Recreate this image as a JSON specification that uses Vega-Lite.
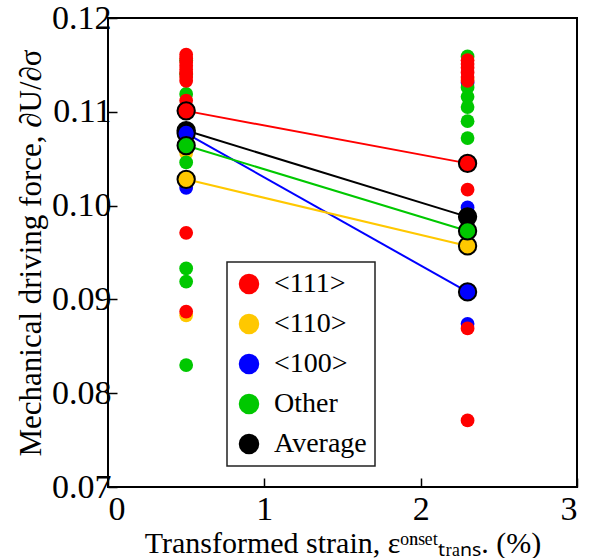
{
  "$schema": "https://vega.github.io/schema/vega-lite/v6.json",
  "width": 469,
  "height": 469,
  "autosize": {"type": "none"},
  "padding": {"left": 108, "top": 18, "right": 13, "bottom": 71},
  "background": "white",
  "config": {
    "view": {"stroke": "black", "strokeWidth": 2},
    "font": "Liberation Serif",
    "axis": {"labelFont": "Liberation Serif", "titleFont": "Liberation Serif", "labelColor": "black", "titleColor": "black", "titleFontWeight": "normal", "tickColor": "black", "tickWidth": 1.5, "grid": false, "domain": false}
  },
  "data": {
    "values": [
      {"x": 0.5, "y": 0.1082, "g": "<100>", "k": "pt"},
      {"x": 0.5, "y": 0.1019, "g": "<100>", "k": "pt"},
      {"x": 2.3, "y": 0.1131, "g": "<100>", "k": "pt"},
      {"x": 2.3, "y": 0.0998, "g": "<100>", "k": "pt"},
      {"x": 2.3, "y": 0.0874, "g": "<100>", "k": "pt"},
      {"x": 0.5, "y": 0.1056, "g": "<110>", "k": "pt"},
      {"x": 0.5, "y": 0.0883, "g": "<110>", "k": "pt"},
      {"x": 2.3, "y": 0.1135, "g": "<110>", "k": "pt"},
      {"x": 0.5, "y": 0.1155, "g": "Other", "k": "pt"},
      {"x": 0.5, "y": 0.1140, "g": "Other", "k": "pt"},
      {"x": 0.5, "y": 0.1119, "g": "Other", "k": "pt"},
      {"x": 0.5, "y": 0.1046, "g": "Other", "k": "pt"},
      {"x": 0.5, "y": 0.0933, "g": "Other", "k": "pt"},
      {"x": 0.5, "y": 0.0919, "g": "Other", "k": "pt"},
      {"x": 0.5, "y": 0.0830, "g": "Other", "k": "pt"},
      {"x": 2.3, "y": 0.1159, "g": "Other", "k": "pt"},
      {"x": 2.3, "y": 0.1126, "g": "Other", "k": "pt"},
      {"x": 2.3, "y": 0.1116, "g": "Other", "k": "pt"},
      {"x": 2.3, "y": 0.1105, "g": "Other", "k": "pt"},
      {"x": 2.3, "y": 0.1090, "g": "Other", "k": "pt"},
      {"x": 2.3, "y": 0.1072, "g": "Other", "k": "pt"},
      {"x": 0.5, "y": 0.1161, "g": "<111>", "k": "pt"},
      {"x": 0.5, "y": 0.1157, "g": "<111>", "k": "pt"},
      {"x": 0.5, "y": 0.1153, "g": "<111>", "k": "pt"},
      {"x": 0.5, "y": 0.1149, "g": "<111>", "k": "pt"},
      {"x": 0.5, "y": 0.1145, "g": "<111>", "k": "pt"},
      {"x": 0.5, "y": 0.1141, "g": "<111>", "k": "pt"},
      {"x": 0.5, "y": 0.1137, "g": "<111>", "k": "pt"},
      {"x": 0.5, "y": 0.1133, "g": "<111>", "k": "pt"},
      {"x": 0.5, "y": 0.1112, "g": "<111>", "k": "pt"},
      {"x": 0.5, "y": 0.0971, "g": "<111>", "k": "pt"},
      {"x": 0.5, "y": 0.0887, "g": "<111>", "k": "pt"},
      {"x": 2.3, "y": 0.1155, "g": "<111>", "k": "pt"},
      {"x": 2.3, "y": 0.1151, "g": "<111>", "k": "pt"},
      {"x": 2.3, "y": 0.1147, "g": "<111>", "k": "pt"},
      {"x": 2.3, "y": 0.1142, "g": "<111>", "k": "pt"},
      {"x": 2.3, "y": 0.1137, "g": "<111>", "k": "pt"},
      {"x": 2.3, "y": 0.1133, "g": "<111>", "k": "pt"},
      {"x": 2.3, "y": 0.1017, "g": "<111>", "k": "pt"},
      {"x": 2.3, "y": 0.0869, "g": "<111>", "k": "pt"},
      {"x": 2.3, "y": 0.0771, "g": "<111>", "k": "pt"},
      {"x": 0.5, "y": 0.1080, "g": "Average", "k": "avg"},
      {"x": 2.3, "y": 0.0988, "g": "Average", "k": "avg"},
      {"x": 0.5, "y": 0.1028, "g": "<110>", "k": "avg"},
      {"x": 2.3, "y": 0.0957, "g": "<110>", "k": "avg"},
      {"x": 0.5, "y": 0.1077, "g": "<100>", "k": "avg"},
      {"x": 2.3, "y": 0.0908, "g": "<100>", "k": "avg"},
      {"x": 0.5, "y": 0.1101, "g": "<111>", "k": "avg"},
      {"x": 2.3, "y": 0.1045, "g": "<111>", "k": "avg"},
      {"x": 0.5, "y": 0.1064, "g": "Other", "k": "avg"},
      {"x": 2.3, "y": 0.0973, "g": "Other", "k": "avg"}
    ]
  },
  "encoding": {
    "x": {"field": "x", "type": "quantitative", "scale": {"domain": [0, 3], "nice": false},
      "axis": {"values": [0, 1, 2, 3], "format": "d", "tickSize": -9, "labelFontSize": 34, "labelPadding": 14, "title": "Transformed strain, εᵒⁿˢᵉᵗₜᵣₐₙₛ.  (%)", "titleFontSize": 30, "titlePadding": 2}},
    "y": {"field": "y", "type": "quantitative", "scale": {"domain": [0.07, 0.12], "nice": false, "zero": false},
      "axis": {"values": [0.07, 0.08, 0.09, 0.1, 0.11, 0.12], "format": ".2f", "tickSize": -9, "labelFontSize": 34, "labelPadding": 6, "title": "Mechanical driving force, ∂U/∂σ", "titleFontSize": 31, "titlePadding": 4}}
  },
  "layer": [
    {"transform": [{"filter": "datum.k == 'avg' && datum.g == '<111>'"}], "mark": {"type": "line", "strokeWidth": 2, "color": "#FF0000"}, "encoding": {}},
    {"transform": [{"filter": "datum.k == 'avg' && datum.g == 'Average'"}], "mark": {"type": "line", "strokeWidth": 2, "color": "#000000"}, "encoding": {}},
    {"transform": [{"filter": "datum.k == 'avg' && datum.g == '<100>'"}], "mark": {"type": "line", "strokeWidth": 2, "color": "#0000FF"}, "encoding": {}},
    {"transform": [{"filter": "datum.k == 'avg' && datum.g == 'Other'"}], "mark": {"type": "line", "strokeWidth": 2, "color": "#00C800"}, "encoding": {}},
    {"transform": [{"filter": "datum.k == 'avg' && datum.g == '<110>'"}], "mark": {"type": "line", "strokeWidth": 2, "color": "#FFC800"}, "encoding": {}},
    {
      "transform": [{"filter": "datum.k == 'pt'"}],
      "mark": {"type": "circle", "opacity": 1, "size": 190},
      "encoding": {
        "color": {"field": "g", "type": "nominal",
          "scale": {"domain": ["<111>", "<110>", "<100>", "Other", "Average"], "range": ["#FF0000", "#FFC800", "#0000FF", "#00C800", "#000000"]},
          "legend": {"orient": "none", "legendX": 119, "legendY": 244, "title": null, "symbolType": "circle", "symbolSize": 420, "symbolStrokeWidth": 0, "symbolOpacity": 1, "labelFont": "Liberation Serif", "labelFontSize": 28, "labelColor": "black", "labelOffset": 11, "rowPadding": 12, "padding": 8, "strokeColor": "#222222",
            "encode": {"legend": {"update": {"strokeWidth": {"value": 1.5}}}}}}
      }
    },
    {
      "transform": [{"filter": "datum.k == 'avg'"}],
      "mark": {"type": "circle", "opacity": 1, "size": 300, "stroke": "black", "strokeWidth": 2},
      "encoding": {
        "color": {"field": "g", "type": "nominal"}
      }
    }
  ]
}
